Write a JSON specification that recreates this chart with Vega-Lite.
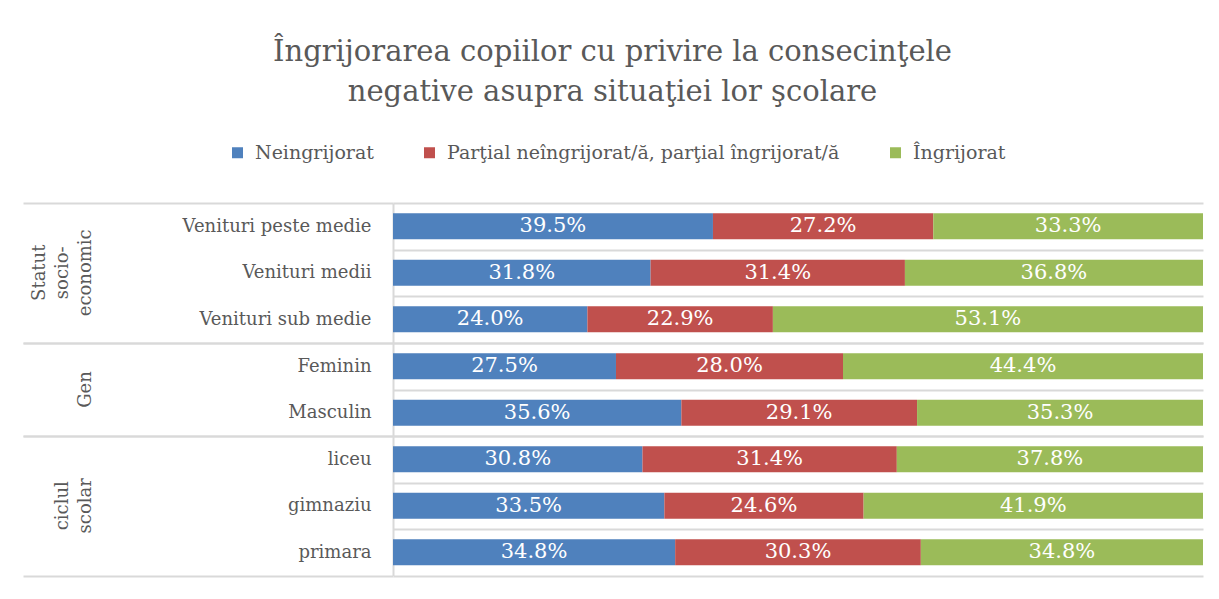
{
  "$schema": "https://vega.github.io/schema/vega-lite/v6.json",
  "background": "white",
  "padding": {"left": 22, "top": 38, "right": 17, "bottom": 20},
  "bounds": "flush",
  "title": {
    "text": ["Îngrijorarea copiilor cu privire la consecinţele", "negative asupra situaţiei lor şcolare"],
    "anchor": "middle",
    "font": "DejaVu Serif",
    "fontSize": 29,
    "fontWeight": "normal",
    "color": "#595959",
    "lineHeight": 40,
    "offset": 36
  },
  "data": {
    "values": [
      {"grup": "Statut socio-economic", "categorie": "Venituri peste medie", "raspuns": "Neingrijorat", "valoare": 0.395},
      {"grup": "Statut socio-economic", "categorie": "Venituri peste medie", "raspuns": "Parţial neîngrijorat/ă, parţial îngrijorat/ă", "valoare": 0.272},
      {"grup": "Statut socio-economic", "categorie": "Venituri peste medie", "raspuns": "Îngrijorat", "valoare": 0.333},
      {"grup": "Statut socio-economic", "categorie": "Venituri medii", "raspuns": "Neingrijorat", "valoare": 0.318},
      {"grup": "Statut socio-economic", "categorie": "Venituri medii", "raspuns": "Parţial neîngrijorat/ă, parţial îngrijorat/ă", "valoare": 0.314},
      {"grup": "Statut socio-economic", "categorie": "Venituri medii", "raspuns": "Îngrijorat", "valoare": 0.368},
      {"grup": "Statut socio-economic", "categorie": "Venituri sub medie", "raspuns": "Neingrijorat", "valoare": 0.240},
      {"grup": "Statut socio-economic", "categorie": "Venituri sub medie", "raspuns": "Parţial neîngrijorat/ă, parţial îngrijorat/ă", "valoare": 0.229},
      {"grup": "Statut socio-economic", "categorie": "Venituri sub medie", "raspuns": "Îngrijorat", "valoare": 0.531},
      {"grup": "Gen", "categorie": "Feminin", "raspuns": "Neingrijorat", "valoare": 0.275},
      {"grup": "Gen", "categorie": "Feminin", "raspuns": "Parţial neîngrijorat/ă, parţial îngrijorat/ă", "valoare": 0.280},
      {"grup": "Gen", "categorie": "Feminin", "raspuns": "Îngrijorat", "valoare": 0.444},
      {"grup": "Gen", "categorie": "Masculin", "raspuns": "Neingrijorat", "valoare": 0.356},
      {"grup": "Gen", "categorie": "Masculin", "raspuns": "Parţial neîngrijorat/ă, parţial îngrijorat/ă", "valoare": 0.291},
      {"grup": "Gen", "categorie": "Masculin", "raspuns": "Îngrijorat", "valoare": 0.353},
      {"grup": "ciclul scolar", "categorie": "liceu", "raspuns": "Neingrijorat", "valoare": 0.308},
      {"grup": "ciclul scolar", "categorie": "liceu", "raspuns": "Parţial neîngrijorat/ă, parţial îngrijorat/ă", "valoare": 0.314},
      {"grup": "ciclul scolar", "categorie": "liceu", "raspuns": "Îngrijorat", "valoare": 0.378},
      {"grup": "ciclul scolar", "categorie": "gimnaziu", "raspuns": "Neingrijorat", "valoare": 0.335},
      {"grup": "ciclul scolar", "categorie": "gimnaziu", "raspuns": "Parţial neîngrijorat/ă, parţial îngrijorat/ă", "valoare": 0.246},
      {"grup": "ciclul scolar", "categorie": "gimnaziu", "raspuns": "Îngrijorat", "valoare": 0.419},
      {"grup": "ciclul scolar", "categorie": "primara", "raspuns": "Neingrijorat", "valoare": 0.348},
      {"grup": "ciclul scolar", "categorie": "primara", "raspuns": "Parţial neîngrijorat/ă, parţial îngrijorat/ă", "valoare": 0.303},
      {"grup": "ciclul scolar", "categorie": "primara", "raspuns": "Îngrijorat", "valoare": 0.348}
    ]
  },
  "facet": {
    "row": {
      "field": "grup",
      "type": "nominal",
      "sort": ["Statut socio-economic", "Gen", "ciclul scolar"],
      "header": {
        "title": null,
        "labelAngle": -90,
        "labelOrient": "left",
        "labelAlign": "center",
        "labelBaseline": "bottom",
        "labelFont": "DejaVu Serif",
        "labelFontSize": 18,
        "labelColor": "#595959",
        "labelLineHeight": 23,
        "labelPadding": 280,
        "labelExpr": "split(replace(datum.value, '-', '- '), ' ')"
      }
    }
  },
  "spacing": 0,
  "resolve": {"scale": {"y": "independent"}},
  "spec": {
    "width": 810,
    "height": {"step": 46.5},
    "encoding": {
      "y": {
        "field": "categorie",
        "type": "nominal",
        "sort": ["Venituri peste medie", "Venituri medii", "Venituri sub medie", "Feminin", "Masculin", "liceu", "gimnaziu", "primara"],
        "scale": {"paddingInner": 0, "paddingOuter": 0},
        "axis": {
          "title": null,
          "domainColor": "#d9d9d9",
          "domainWidth": 2,
          "ticks": true,
          "tickSize": 370,
          "tickWidth": 2,
          "tickBand": "extent",
          "tickColor": {"condition": {"test": "datum.index == -1 || datum.index == 1", "value": "#d9d9d9"}, "value": "transparent"},
          "grid": true,
          "gridColor": "#d9d9d9",
          "gridWidth": 2,
          "labelPadding": -348,
          "labelLimit": 350,
          "labelFont": "DejaVu Serif",
          "labelFontSize": 18,
          "labelColor": "#595959",
          "minExtent": 370,
          "maxExtent": 370
        }
      }
    },
    "layer": [
      {
        "mark": {"type": "bar", "size": 26},
        "encoding": {
          "x": {"field": "valoare", "type": "quantitative", "stack": "normalize", "axis": null},
          "color": {
            "field": "raspuns",
            "type": "nominal",
            "scale": {
              "domain": ["Neingrijorat", "Parţial neîngrijorat/ă, parţial îngrijorat/ă", "Îngrijorat"],
              "range": ["#4F81BD", "#C0504D", "#9BBB59"]
            },
            "legend": {
              "title": null,
              "orient": "none",
              "legendX": -165,
              "legendY": -60,
              "direction": "horizontal",
              "symbolType": "square",
              "symbolSize": 121,
              "symbolStrokeWidth": 0,
              "labelFont": "DejaVu Serif",
              "labelFontSize": 19,
              "labelColor": "#595959",
              "columnPadding": 46,
              "labelOffset": 8,
              "labelLimit": 600
            }
          }
        }
      },
      {
        "mark": {"type": "text", "color": "white", "font": "DejaVu Serif", "fontSize": 21},
        "encoding": {
          "x": {"field": "valoare", "type": "quantitative", "stack": "normalize", "bandPosition": 0.5, "axis": null},
          "detail": {"field": "raspuns"},
          "order": {"field": "raspuns"},
          "text": {"field": "valoare", "format": ".1%"}
        }
      }
    ]
  },
  "config": {
    "view": {"stroke": null}
  }
}
